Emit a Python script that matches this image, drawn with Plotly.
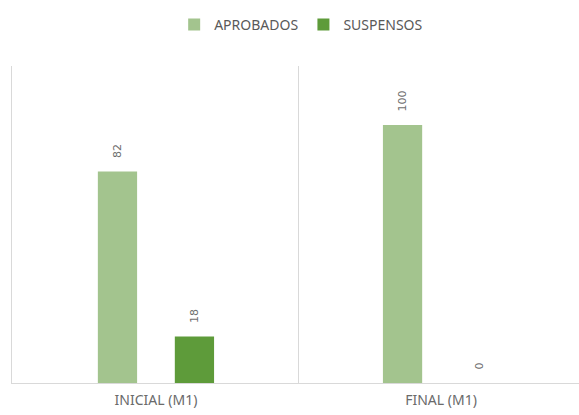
import plotly.graph_objects as go

categorias = ["INICIAL (M1)", "FINAL (M1)"]
aprobados = [82, 100]
suspensos = [18, 0]

color_aprob = "#A3C48E"
color_susp = "#5E9B3A"
gris_texto = "#595959"
gris_linea = "#D9D9D9"

etiqueta = dict(size=11, color="#6E6E6E", family="DejaVu Sans")

fig = go.Figure()
fig.add_trace(go.Bar(
    name="APROBADOS", x=categorias, y=aprobados,
    marker=dict(color=color_aprob, line=dict(width=0)),
    text=aprobados, texttemplate="   %{text}", textposition="outside", textangle=-90,
    textfont=etiqueta, cliponaxis=False,
))
fig.add_trace(go.Bar(
    name="SUSPENSOS", x=categorias, y=suspensos,
    marker=dict(color=color_susp, line=dict(width=0)),
    text=suspensos, texttemplate="   %{text}", textposition="outside", textangle=-90,
    textfont=etiqueta, cliponaxis=False,
))

# separator between the two categories
fig.add_shape(type="line", xref="x", yref="paper", x0=0.5, x1=0.5, y0=0, y1=1,
              line=dict(color=gris_linea, width=1))

fig.update_layout(
    width=579, height=415,
    margin=dict(l=12, r=0, t=66, b=32),
    paper_bgcolor="white", plot_bgcolor="white",
    barmode="group", bargap=0.46, bargroupgap=0.49,
    font=dict(family="Noto Sans", color=gris_texto),
    legend=dict(orientation="h", x=0.51, xanchor="center", y=1.13, yanchor="middle",
                font=dict(size=14, color=gris_texto), itemwidth=30,
                traceorder="normal"),
    showlegend=True,
)
fig.update_xaxes(
    range=[-0.505, 1.484], showline=True, linecolor=gris_linea, linewidth=1,
    showgrid=False, ticks="outside", ticklen=4, tickcolor="white",
    tickfont=dict(size=14, color="#6A6A6A"),
    fixedrange=True,
)
fig.update_yaxes(
    range=[0, 122.9], showline=True, linecolor=gris_linea, linewidth=1,
    showgrid=False, showticklabels=False, ticks="", zeroline=False,
    fixedrange=True,
)

fig.write_html("out.html")
